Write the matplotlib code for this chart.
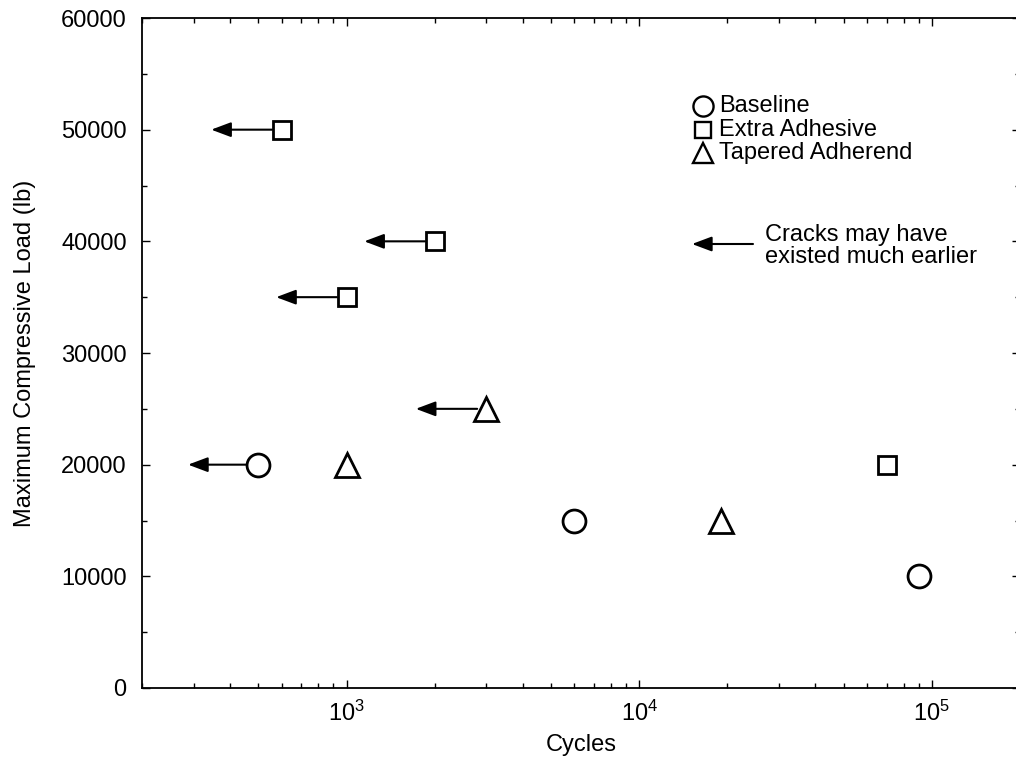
import matplotlib
matplotlib.use("Agg")
import matplotlib.pyplot as plt
from matplotlib.ticker import LogLocator, FixedLocator, NullFormatter

plt.rcParams['font.family'] = ['Liberation Sans', 'DejaVu Sans']
plt.rcParams['mathtext.fontset'] = 'custom'
plt.rcParams['mathtext.rm'] = 'Liberation Sans'
plt.rcParams['mathtext.it'] = 'Liberation Sans'

# ---- data ----
baseline_x = [500, 6000, 90000]
baseline_y = [20000, 15000, 10000]
baseline_arrow = [True, False, False]

extra_x = [600, 2000, 1000, 70000]
extra_y = [50000, 40000, 35000, 20000]
extra_arrow = [True, True, True, False]

tapered_x = [1000, 3000, 19000]
tapered_y = [20000, 25000, 15000]
tapered_arrow = [False, True, False]

arrow_ratio = 1.74  # arrows point to x / ratio
legend_labels = ["Baseline", "Extra Adhesive", "Tapered Adherend"]
note_text = "Cracks may have\nexisted much earlier"

W, H = 1016, 759
fig = plt.figure(figsize=(W / 100, H / 100), dpi=100)
ax = fig.add_axes([142 / W, (759 - 688) / H, (1020 - 142) / W, (688 - 18) / H])

FS = 17
mk = dict(linestyle='none', markerfacecolor='white', markeredgecolor='black',
          markeredgewidth=2.0, zorder=3, clip_on=False)

series = [
    (baseline_x, baseline_y, baseline_arrow, 'o', 16.5, 8.3),
    (extra_x, extra_y, extra_arrow, 's', 13.5, 6.9),
    (tapered_x, tapered_y, tapered_arrow, '^', 17.0, 6.5),
]

AST = '-|>,head_length=1.2,head_width=0.45'
for xs, ys, arr, m, ms, shr in series:
    ax.plot(xs, ys, marker=m, markersize=ms, **mk)
    for x, y, a in zip(xs, ys, arr):
        if a:
            ax.annotate("", xy=(x / arrow_ratio, y), xytext=(x, y),
                        arrowprops=dict(arrowstyle=AST, mutation_scale=10,
                                        color='black', lw=1.5,
                                        shrinkA=shr, shrinkB=0), zorder=2)

ax.set_xscale('log')
ax.set_xlim(200, 200000)
ax.set_ylim(0, 60000)
ax.yaxis.set_major_locator(FixedLocator([0, 10000, 20000, 30000, 40000, 50000, 60000]))
ax.yaxis.set_minor_locator(FixedLocator([5000, 15000, 25000, 35000, 45000, 55000]))
ax.set_yticklabels(["0", "10000", "20000", "30000", "40000", "50000", "60000"])
ax.xaxis.set_major_locator(LogLocator(base=10, numticks=10))
ax.xaxis.set_minor_locator(LogLocator(base=10, subs=range(2, 10), numticks=20))
ax.xaxis.set_minor_formatter(NullFormatter())

ax.tick_params(which='both', direction='in', top=True, right=True, labelsize=FS, width=1.0)
ax.tick_params(which='major', length=6)
ax.tick_params(axis='x', which='major', pad=9)
ax.tick_params(axis='y', which='major', pad=11)
ax.tick_params(which='minor', length=3.5)
for s in ax.spines.values():
    s.set_linewidth(1.3)

ax.set_xlabel("Cycles", fontsize=FS, labelpad=6)
ax.set_ylabel("Maximum Compressive Load (lb)", fontsize=FS, labelpad=18)

# ---- legend (manual) ----
def axfx(px):
    return (px - 142) / 878
def axfy(py):
    return (688 - py) / 670

leg_marks = [('o', 14.5), ('s', 12.0), ('^', 15.0)]
leg_py = [106, 130, 153]
for (m, ms), py, lab in zip(leg_marks, leg_py, legend_labels):
    ax.plot([axfx(703)], [axfy(py)], marker=m, markersize=ms, transform=ax.transAxes,
            linestyle='none', markerfacecolor='white', markeredgecolor='black',
            markeredgewidth=1.7, clip_on=False)
    ax.text(axfx(719), axfy(py), lab, transform=ax.transAxes, fontsize=FS,
            va='center', ha='left')

ax.annotate("", xy=(axfx(692), axfy(244)), xytext=(axfx(753), axfy(244)),
            xycoords='axes fraction', textcoords='axes fraction',
            arrowprops=dict(arrowstyle=AST, mutation_scale=10, color='black', lw=1.5,
                            shrinkA=0, shrinkB=0))
ax.text(axfx(765), axfy(246), note_text, transform=ax.transAxes, fontsize=FS,
        va='center', ha='left', linespacing=1.02)

fig.savefig("out.png", dpi=100)
